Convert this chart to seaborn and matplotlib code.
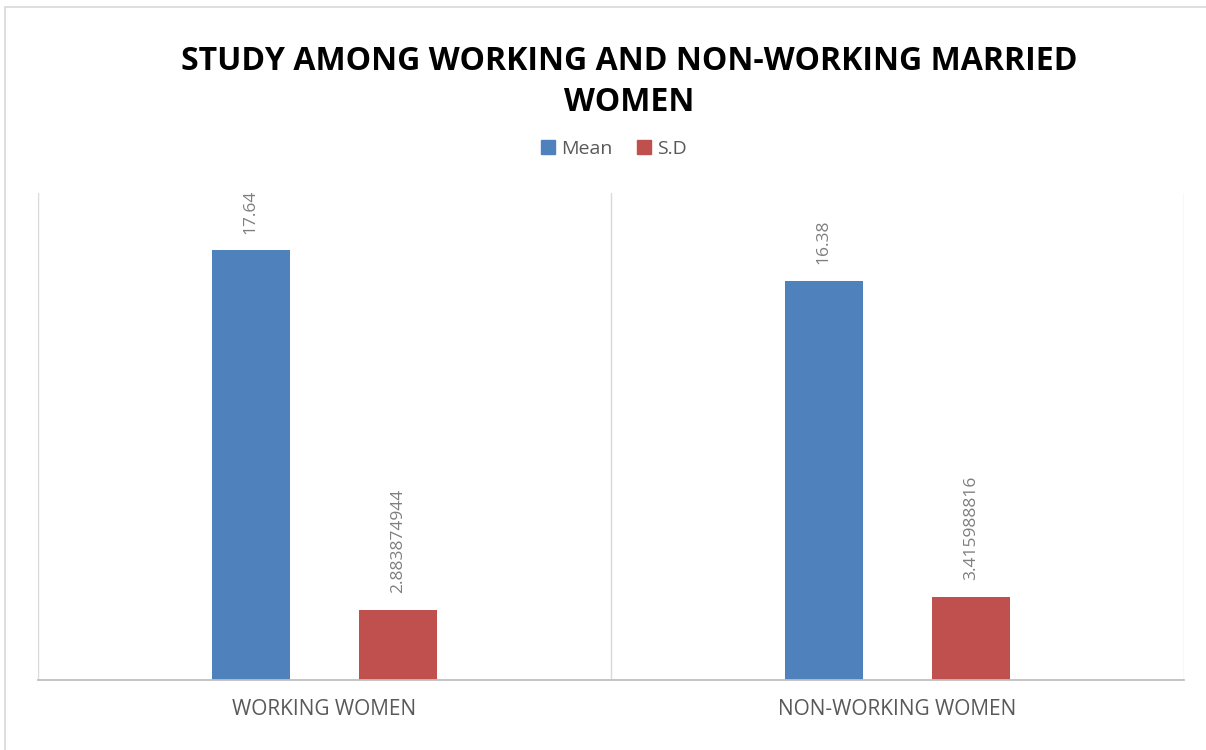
import pandas as pd
import matplotlib.pyplot as plt
import seaborn as sns
from matplotlib.lines import Line2D

# Chart data
groups = ['WORKING WOMEN', 'NON-WORKING WOMEN']
series = ['Mean', 'S.D']
mean_values = [17.64, 16.38]
sd_values = [2.883874944, 3.415988816]

df = pd.DataFrame({
    'group': groups * 2,
    'series': ['Mean'] * len(groups) + ['S.D'] * len(groups),
    'value': mean_values + sd_values,
})

sns.set_style('white')
plt.rcParams['font.family'] = ['Open Sans', 'DejaVu Sans']

fig = plt.figure(figsize=(12.06, 7.5), dpi=100)
ax = fig.add_axes([38 / 1206, 1 - 680 / 750, (1184 - 38) / 1206, (680 - 193) / 750])

palette = {'Mean': '#4F81BD', 'S.D': '#C0504D'}
sns.barplot(data=df, x='group', y='value', hue='series', hue_order=series,
            palette=palette, width=0.516, gap=0.473, saturation=1,
            edgecolor='none', ax=ax)

ax.set_ylim(0, 20)
ax.set_xlim(-0.5, 1.5)

# data labels, rotated like the original
for cont in ax.containers:
    ax.bar_label(cont, fmt=lambda v: f'{v:.10g}', rotation=90, padding=12,
                 color='#7F7F7F', fontsize=12.5)

# category separators
for xb in [-0.5, 0.5, 1.5]:
    ax.axvline(xb, color='#D9D9D9', lw=1, zorder=0)

for s in ['top', 'left', 'right']:
    ax.spines[s].set_visible(False)
ax.spines['bottom'].set_color('#BFBFBF')
ax.spines['bottom'].set_linewidth(1.3)

ax.set_yticks([])
ax.set_xlabel('')
ax.set_ylabel('')
ax.tick_params(axis='x', length=0, pad=14, labelsize=15, labelcolor='#595959')

# legend above the plot
handles = [plt.Rectangle((0, 0), 1, 1, color=palette[s]) for s in series]
ax.get_legend().remove()
fig.legend(handles, series, loc='center', bbox_to_anchor=(614 / 1206, 1 - 149 / 750),
           ncol=2, frameon=False, fontsize=14, handlelength=0.7, handleheight=0.7,
           handletextpad=0.3, columnspacing=1.3, labelcolor='#595959')

fig.text(629 / 1206, 1 - 82 / 750, 'STUDY AMONG WORKING AND NON-WORKING MARRIED\nWOMEN',
         ha='center', va='center', fontsize=23, fontweight='bold', linespacing=1.32,
         color='black')

# outer chart border
fig.add_artist(Line2D([5 / 1206, 5 / 1206], [0, 1 - 7 / 750], color='#D9D9D9', lw=1.2))
fig.add_artist(Line2D([5 / 1206, 1], [1 - 7 / 750, 1 - 7 / 750], color='#D9D9D9', lw=1.2))

fig.savefig('out.png', dpi=100)
